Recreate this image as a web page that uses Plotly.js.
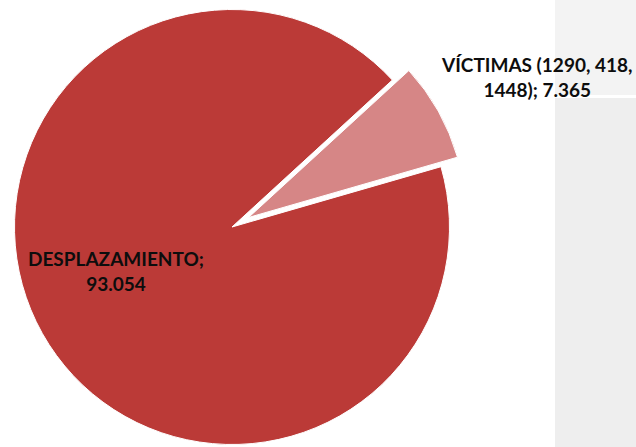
<!DOCTYPE html>
<html>
<head>
<meta charset="utf-8">
<script src="https://cdn.plot.ly/plotly-3.0.1.min.js"></script>
<style>
  html, body { margin: 0; padding: 0; background: #ffffff; }
  #chart { width: 636px; height: 447px; }
</style>
</head>
<body>
<div id="chart"></div>
<script>
// ---- data ----
const categories = ['VÍCTIMAS (1290, 418, 1448)', 'DESPLAZAMIENTO'];
const values = [7365, 93054];

// ---- styles ----
const sliceColors = ['#d68686', '#bb3a37'];
const clear = 'rgba(0,0,0,0)';

function fmt(v) {
  return String(v).replace(/\B(?=(\d{3})+(?!\d))/g, '.');
}
function wrap(text, maxChars) {
  const words = text.split(' ');
  const lines = [];
  let cur = '';
  words.forEach(w => {
    if (cur && (cur + ' ' + w).length > maxChars) { lines.push(cur); cur = w; }
    else { cur = cur ? cur + ' ' + w : w; }
  });
  if (cur) lines.push(cur);
  return lines.join('<br>');
}
const labels = categories.map((c, i) => wrap(c + '; ' + fmt(values[i]), 20));

const common = {
  type: 'pie',
  labels: categories,
  values: values,
  sort: false,
  direction: 'clockwise',
  rotation: 47.5,
  textinfo: 'none',
  hoverinfo: 'skip',
  showlegend: false
};

// main (non-exploded) slice
const traceMain = Object.assign({}, common, {
  domain: { x: [14.5 / 636, 449.5 / 636], y: [1 - 444.5 / 447, 1 - 9.5 / 447] },
  marker: { colors: [clear, sliceColors[1]], line: { color: '#ffffff', width: [0, 1] } }
});
// exploded slice (offset outward along its bisector)
const traceExploded = Object.assign({}, common, {
  domain: { x: [31 / 636, 466 / 636], y: [1 - 435 / 447, 1] },
  marker: { colors: [sliceColors[0], clear], line: { color: '#ffffff', width: [1, 0] } }
});

const font = { family: 'Lato, "Open Sans", sans-serif', size: 19, color: '#0d0d0d', weight: 'bold' };

const layout = {
  width: 636,
  height: 447,
  margin: { l: 0, r: 0, t: 0, b: 0 },
  paper_bgcolor: '#ffffff',
  plot_bgcolor: '#ffffff',
  showlegend: false,
  shapes: [
    { type: 'rect', xref: 'paper', yref: 'paper', x0: 555 / 636, x1: 1, y0: 1 - 95 / 447, y1: 1,
      fillcolor: '#f3f3f3', line: { width: 0 }, layer: 'below' },
    { type: 'rect', xref: 'paper', yref: 'paper', x0: 555 / 636, x1: 1, y0: 0, y1: 1 - 98 / 447,
      fillcolor: '#eeeeee', line: { width: 0 }, layer: 'below' }
  ],
  annotations: [
    { text: '<b>' + labels[0] + '</b>', xref: 'paper', yref: 'paper', x: 537 / 636, y: 1 - 77 / 447,
      xanchor: 'center', yanchor: 'middle', showarrow: false, align: 'center', font: font },
    { text: '<b>' + labels[1] + '</b>', xref: 'paper', yref: 'paper', x: 116 / 636, y: 1 - 271 / 447,
      xanchor: 'center', yanchor: 'middle', showarrow: false, align: 'center', font: font }
  ]
};

Plotly.newPlot('chart', [traceMain, traceExploded], layout, { staticPlot: true, displayModeBar: false });
</script>
</body>
</html>
